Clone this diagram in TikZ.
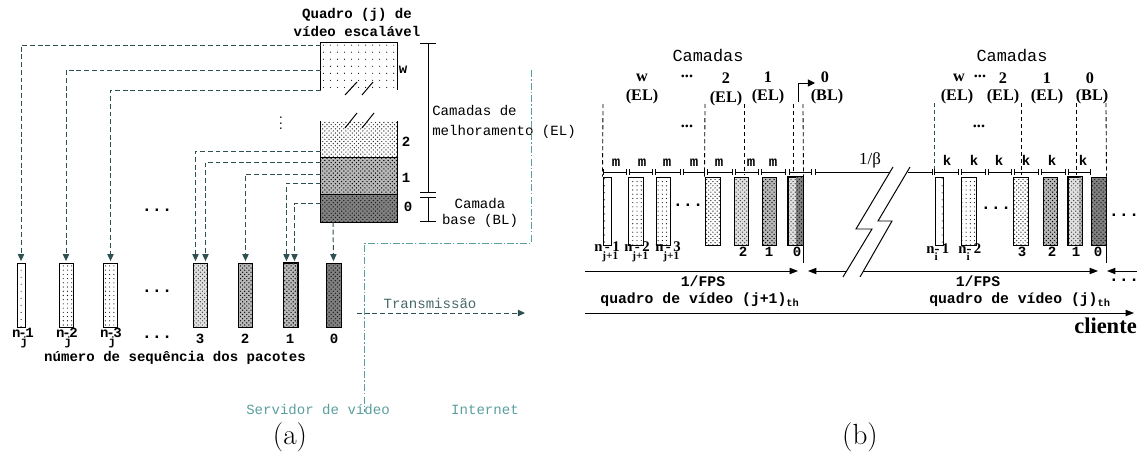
\documentclass[tikz,border=0pt]{standalone}
\usepackage{fontspec}
\setmonofont{Liberation Mono}
\newfontfamily\timesf{Liberation Serif}
\usetikzlibrary{arrows.meta,patterns,patterns.meta,calc}
\definecolor{vsFeed}{HTML}{2F5050}
\definecolor{vsNet}{HTML}{5A9E9E}
\definecolor{vsTx}{HTML}{466868}
\newdimen\pxu \pxu=0.025cm
\tikzset{
  mono/.style={font=\ttfamily\fontsize{10}{12}\selectfont, inner sep=0pt},
  monob/.style={font=\ttfamily\bfseries\fontsize{10}{12}\selectfont, inner sep=0pt},
  monobig/.style={font=\ttfamily\fontsize{12}{14}\selectfont, inner sep=0pt},
  monodots/.style={font=\ttfamily\bfseries\fontsize{12}{14}\selectfont, inner sep=0pt},
  monolbl/.style={font=\ttfamily\bfseries\fontsize{10}{12}\selectfont, inner sep=0pt},
  serb/.style={font=\timesf\bfseries\fontsize{11.5}{13}\selectfont, inner sep=0pt},
  serlbl/.style={font=\timesf\bfseries\fontsize{10.5}{12}\selectfont, inner sep=0pt},
  pkt/.style={draw, line width=0.7pt, inner sep=0pt, minimum width=14\pxu, minimum height=64\pxu},
  pktb/.style={pkt, minimum height=68\pxu},
  narrow/.style={minimum width=8\pxu},
  pkw/.style={pattern={Dots[distance=5pt,radius=0.4pt]}},
  pkdot/.style={pattern={Dots[distance=3pt,radius=0.4pt]}},
  pkd/.style={pattern=crosshatch dots, pattern color=black!80},
  pk2/.style={preaction={fill=black!12}, pattern=crosshatch dots, pattern color=black!70},
  pk1/.style={preaction={fill=black!28}, pattern=crosshatch dots},
  pk0/.style={preaction={fill=black!50}, pattern=crosshatch dots, pattern color=black!90},
  layer/.style={inner sep=0pt, minimum width=76\pxu},
  feed/.style={vsFeed, line width=0.7pt, dash pattern=on 3.5pt off 2pt,
    -{Triangle[length=5pt,width=4.5pt]}, shorten >=1pt},
  netline/.style={vsNet, line width=0.6pt, dash pattern=on 5pt off 1.5pt on 1pt off 1.5pt},
  brk/.style={line width=0.7pt},
  bracket/.style={{Bar[width=11pt]}-{Bar[width=11pt]}, line width=0.7pt},
  seg/.style={{Bar[width=4pt]}-{Bar[width=4pt]}, line width=0.7pt},
  guide/.style={line width=0.6pt, dash pattern=on 3pt off 2pt},
  tarrow/.style={-{Triangle[length=6pt,width=4.5pt]}, line width=0.7pt}
}
\newcommand{\seqj}[1]{n\rlap{\raisebox{-1.1ex}{\fontsize{8.5}{9}\selectfont j}}\kern-1.5pt-\kern-1pt#1}
\newcommand{\seqb}[2]{n\rlap{\raisebox{-1.1ex}{\fontsize{8}{9}\selectfont #1}}\,-\,#2}
\begin{document}
\begin{tikzpicture}[x=0.025cm, y=-0.025cm]
  \useasboundingbox (0,0) rectangle (1140,460);

  % (a) scalable video frame
  \node[monob] (qT1) at (357,15) {Quadro (j) de};
  \node[monob] (qT2) at (357,31) {vídeo escalável};
  \node[layer, pkw, minimum height=47\pxu] (lyW) at (359,66.5) {};
  \draw[line width=0.7pt] (lyW.south west) -- (lyW.north west) -- (lyW.north east) -- (lyW.south east);
  \node[layer, pkd, minimum height=37\pxu] (ly2) at (359,139.5) {};
  \node[layer, pk1, minimum height=37\pxu] (ly1) at (359,176.5) {};
  \node[layer, pk0, minimum height=27\pxu] (ly0) at (359,208.5) {};
  \draw[line width=0.7pt] (ly2.north west) -- (ly0.south west) -- (ly0.south east) -- (ly2.north east);
  \draw[line width=0.7pt] (ly1.north west) -- (ly1.north east) (ly0.north west) -- (ly0.north east);
  \draw[brk] (345,95) -- (357,82) (362,95) -- (373,82) (345,128) -- (357,113) (362,128) -- (374,113);
  \node[monob] (lw) at (403,70) {w};
  \node[monob] (l2) at (406,142) {2};
  \node[monob] (l1) at (406,178) {1};
  \node[monob] (l0) at (408,207) {0};
  \node[inner sep=0pt, font=\large] (vd) at (281,119) {$\vdots$};

  % layer brackets
  \coordinate (elA) at (428,43);
  \coordinate (elB) at (428,193);
  \coordinate (blA) at (428,197);
  \coordinate (blB) at (428,222);
  \draw[bracket] (elA) -- (elB);
  \draw[bracket] (blA) -- (blB);
  \node[mono, font=\ttfamily\fontsize{10}{14.2}\selectfont, anchor=west, align=left] (elT) at (432,122) {Camadas de\\melhoramento (EL)};
  \node[mono, font=\ttfamily\fontsize{10}{11.5}\selectfont, align=center] (blT) at (480,213) {Camada\\base (BL)};

  % packets
  \node[pkt, narrow, pkw] (paA) at (21,295) {};
  \node[pkt, pkdot] (paB) at (66,295) {};
  \node[pkt, pkdot] (paC) at (110.5,295) {};
  \node[pkt, pk2] (pa3) at (200.5,295) {};
  \node[pkt, pk1] (pa2) at (245.5,295) {};
  \node[pkt, pk1] (pa1) at (290.5,295) {};
  \fill[pkd] ($(pa1.north east)+(-5,0)$) rectangle (pa1.south east);
  \draw[line width=0.7pt] (pa1.north west) rectangle (pa1.south east);
  \node[pkt, pk0, minimum width=15\pxu] (pa0) at (333.5,295) {};
  \node[monodots] (dA1) at (157,210) {...};
  \node[monodots] (dA2) at (157,291) {...};

  % frame to packets
  \coordinate (fA) at (321,45);
  \coordinate (fB) at (321,70);
  \coordinate (fC) at (321,90);
  \coordinate (fD) at (321,151);
  \coordinate (fE) at (321,162);
  \coordinate (fF) at (321,174);
  \coordinate (fG) at (321,183);
  \coordinate (fH) at (321,203);
  \coordinate (fI) at (333,222);
  \draw[feed] (fA) -| (paA.north);
  \draw[feed] (fB) -| (paB.north);
  \draw[feed] (fC) -| (paC.north);
  \draw[feed] (fD) -| ($(pa3.north)+(-5,0)$);
  \draw[feed] (fE) -| ($(pa3.north)+(5,0)$);
  \draw[feed] (fF) -| (pa2.north);
  \draw[feed] (fG) -| ($(pa1.north)+(-4,0)$);
  \draw[feed] (fH) -| ($(pa1.north)+(4,0)$);
  \draw[feed] (fI) -- (pa0.north);

  % packet numbers
  \node[monolbl] (nA) at (23,338) {\seqj{1}};
  \node[monolbl] (nB) at (67,338) {\seqj{2}};
  \node[monolbl] (nC) at (111,338) {\seqj{3}};
  \node[monodots] (nD) at (157,337) {...};
  \node[monob] (n3) at (200,339) {3};
  \node[monob] (n2) at (245,339) {2};
  \node[monob] (n1) at (290,339) {1};
  \node[monob] (n0) at (334,339) {0};
  \node[monob] (seqT) at (175,358) {número de sequência dos pacotes};

  % server / internet
  \coordinate (wA) at (531,70);
  \coordinate (wB) at (531,243);
  \coordinate (wC) at (364,243);
  \coordinate (wD) at (364,412);
  \draw[netline] (wA) -- (wB) -- (wC) -- (wD);
  \node[mono, text=vsNet] (srvT) at (318,409) {Servidor de vídeo};
  \node[mono, text=vsNet] (netT) at (485,410) {Internet};
  \coordinate (txA) at (357,313);
  \coordinate (txB) at (525,313);
  \draw[feed, shorten >=0pt] (txA) -- (txB);
  \node[mono, text=vsTx] (txT) at (430,303) {Transmissão};

  % (b) layers of frame j+1
  \node[monobig] (camL) at (708,55) {Camadas};
  \node[serb] (lwL) at (642,78) {w};
  \node[serb] (elwL) at (642,97) {(EL)};
  \node[serb] (dtL) at (687,76) {...};
  \node[serb] (l2L) at (726,78) {2};
  \node[serb] (el2L) at (726,99) {(EL)};
  \node[serb] (l1L) at (768,77) {1};
  \node[serb] (el1L) at (768,97) {(EL)};
  \node[serb] (l0L) at (825,77) {0};
  \node[serb] (bl0L) at (827,97) {(BL)};
  \node[serb] (dtL2) at (687,126) {...};
  \coordinate (bsA) at (798,102);
  \coordinate (bsB) at (815,83);
  \draw[-{Triangle[length=5pt,width=5pt]}, line width=0.7pt] (bsA) |- (bsB);

  % packets of frame j+1
  \node[pktb, narrow, pkw] (pbA) at (607,211) {};
  \node[pktb, minimum width=15\pxu, pkdot] (pbB) at (635.5,211) {};
  \node[pktb, pkdot] (pbC) at (663,211) {};
  \node[pktb, minimum width=15\pxu, pkd] (pbD) at (712.5,211) {};
  \node[pktb, pk2] (pb2) at (741,211) {};
  \node[pktb, pk1] (pb1) at (769,211) {};
  \node[pktb, minimum width=15\pxu, pk2] (pb0) at (795.5,211) {};
  \fill[pk0] (pb0.north) rectangle (pb0.south east);
  \draw[line width=0.7pt] (pb0.north west) rectangle (pb0.south east);
  \node[monodots] (dtB) at (688,205) {...};

  \draw[guide] (603,104) -- (pbA.north west);
  \draw[guide] (705,104) -- (pbD.north west);
  \draw[guide] (744,104) -- (744,175);
  \draw[guide] (793,104) -- (793,174);
  \draw[guide] (803,104) -- (pb0.north east);

  \foreach \a/\b in {603/627,629/653,655/681,683/705,707/733,735/759,761/786,789/812}
    \draw[seg] (\a,172) -- (\b,172);
  \foreach \x in {616,642,667,694,719,751,773}
    \node[monob, name=m\x] at (\x,163) {m};

  \node[serlbl, anchor=west] (nbA) at (594,252) {\seqb{j+1}{1}};
  \node[serlbl, anchor=west] (nbB) at (624,252) {\seqb{j+1}{2}};
  \node[serlbl, anchor=west] (nbC) at (655,252) {\seqb{j+1}{3}};
  \node[monob] (nb2) at (743,252) {2};
  \node[monob] (nb1) at (769,252) {1};
  \node[monob] (nb0) at (797,252) {0};
  \draw[line width=0.7pt] (pb0.south east) -- ++(0,18);

  % 1/beta gap
  \node[font=\timesf\fontsize{12}{14}\selectfont, inner sep=0pt] (betaT) at (870,160) {1/β};
  \draw[line width=0.7pt, {Bar[width=4pt]}-] (815,172) -- (890,172);
  \draw[line width=0.7pt, -{Bar[width=4pt]}] (908,172) -- (933,172);
  \draw[brk] (893,167) -- (856,229) -- (872,229) -- (843,277);
  \draw[brk] (910,167) -- (878,221) -- (892,221) -- (860,277);

  % layers of frame j
  \node[monobig] (camR) at (1012,55) {Camadas};
  \node[serb] (lwR) at (959,78) {w};
  \node[serb] (dtR) at (980,76) {...};
  \node[serb] (l2R) at (1003,78) {2};
  \node[serb] (elwR) at (957,97) {(EL)};
  \node[serb] (el2R) at (1003,97) {(EL)};
  \node[serb] (l1R) at (1047,78) {1};
  \node[serb] (el1R) at (1047,97) {(EL)};
  \node[serb] (l0R) at (1090,78) {0};
  \node[serb] (bl0R) at (1092,97) {(BL)};
  \node[serb] (dtR2) at (979,126) {...};

  % packets of frame j
  \node[pktb, narrow, pkw] (pcA) at (939,211) {};
  \node[pktb, minimum width=15\pxu, pkdot] (pcB) at (968.5,211) {};
  \node[pktb, minimum width=15\pxu, pkd] (pc3) at (1020.5,211) {};
  \node[pktb, pk1] (pc2) at (1050,211) {};
  \node[pktb, pk2] (pc1) at (1075,211) {};
  \fill[pk1] ($(pc1.north east)+(-4,0)$) rectangle (pc1.south east);
  \draw[line width=0.7pt] (pc1.north west) rectangle (pc1.south east);
  \node[pktb, minimum width=15\pxu, pk0] (pc0) at (1098.5,211) {};
  \node[monodots] (dtC) at (996,208) {...};
  \node[monodots] (dtC2) at (1124,215) {...};

  \draw[guide, vsFeed] (934,103) -- (934,174);
  \draw[guide] (1021,103) -- (1021,175);
  \draw[guide] (1076,103) -- (1076,175);
  \draw[guide] (1106,103) -- (pc0.north east);

  \foreach \a/\b in {934/959,961/986,988/1012,1014/1039,1041/1066,1068/1091}
    \draw[seg] (\a,172) -- (\b,172);
  \foreach \x in {947,974,999,1026,1052,1083}
    \node[monob, name=k\x] at (\x,160) {k};

  \node[serlbl, anchor=west] (ncA) at (926,252) {n\rlap{\raisebox{-1.1ex}{\fontsize{8}{9}\selectfont i}}-\,1};
  \node[serlbl, anchor=west] (ncB) at (958,252) {n\rlap{\raisebox{-1.1ex}{\fontsize{8}{9}\selectfont i}}-\,2};
  \node[monob] (nc3) at (1022,252) {3};
  \node[monob] (nc2) at (1052,252) {2};
  \node[monob] (nc1) at (1076,252) {1};
  \node[monob] (nc0) at (1098,252) {0};
  \draw[line width=0.7pt] (pc0.south east) -- ++(0,18);

  % frame periods and client time line
  \coordinate (fpA) at (585,271);
  \coordinate (fpB) at (798,271);
  \coordinate (fpC) at (846,271);
  \coordinate (fpD) at (808,271);
  \coordinate (fpE) at (863,271);
  \coordinate (fpF) at (1098,271);
  \coordinate (fpG) at (1137,271);
  \coordinate (fpH) at (1107,271);
  \draw[tarrow] (fpA) -- (fpB);
  \draw[tarrow] (fpC) -- (fpD);
  \draw[tarrow] (fpE) -- (fpF);
  \draw[tarrow] (fpG) -- (fpH);
  \node[monob, font=\ttfamily\bfseries\fontsize{10.5}{12}\selectfont] (fps1) at (703,281) {1/FPS};
  \node[monob, font=\ttfamily\bfseries\fontsize{10.5}{12}\selectfont] (fps2) at (978,281) {1/FPS};
  \node[monodots] (dtE) at (1124,280) {...};
  \node[monob, font=\ttfamily\bfseries\fontsize{10.5}{12}\selectfont] (qd1) at (700,300) {quadro de vídeo (j+1)\textsubscript{th}};
  \node[monob, font=\ttfamily\bfseries\fontsize{10.5}{12}\selectfont] (qd2) at (1020,300) {quadro de vídeo (j)\textsubscript{th}};
  \coordinate (clA) at (585,313);
  \coordinate (clB) at (1134,313);
  \draw[tarrow] (clA) -- (clB);
  \node[font=\timesf\bfseries\fontsize{16}{18}\selectfont, inner sep=0pt, anchor=east] (cliT) at (1137,326) {cliente};

  % captions
  \node[font=\huge, inner sep=0pt] (capA) at (290,437) {(a)};
  \node[font=\huge, inner sep=0pt] (capB) at (860,437) {(b)};
\end{tikzpicture}
\end{document}
